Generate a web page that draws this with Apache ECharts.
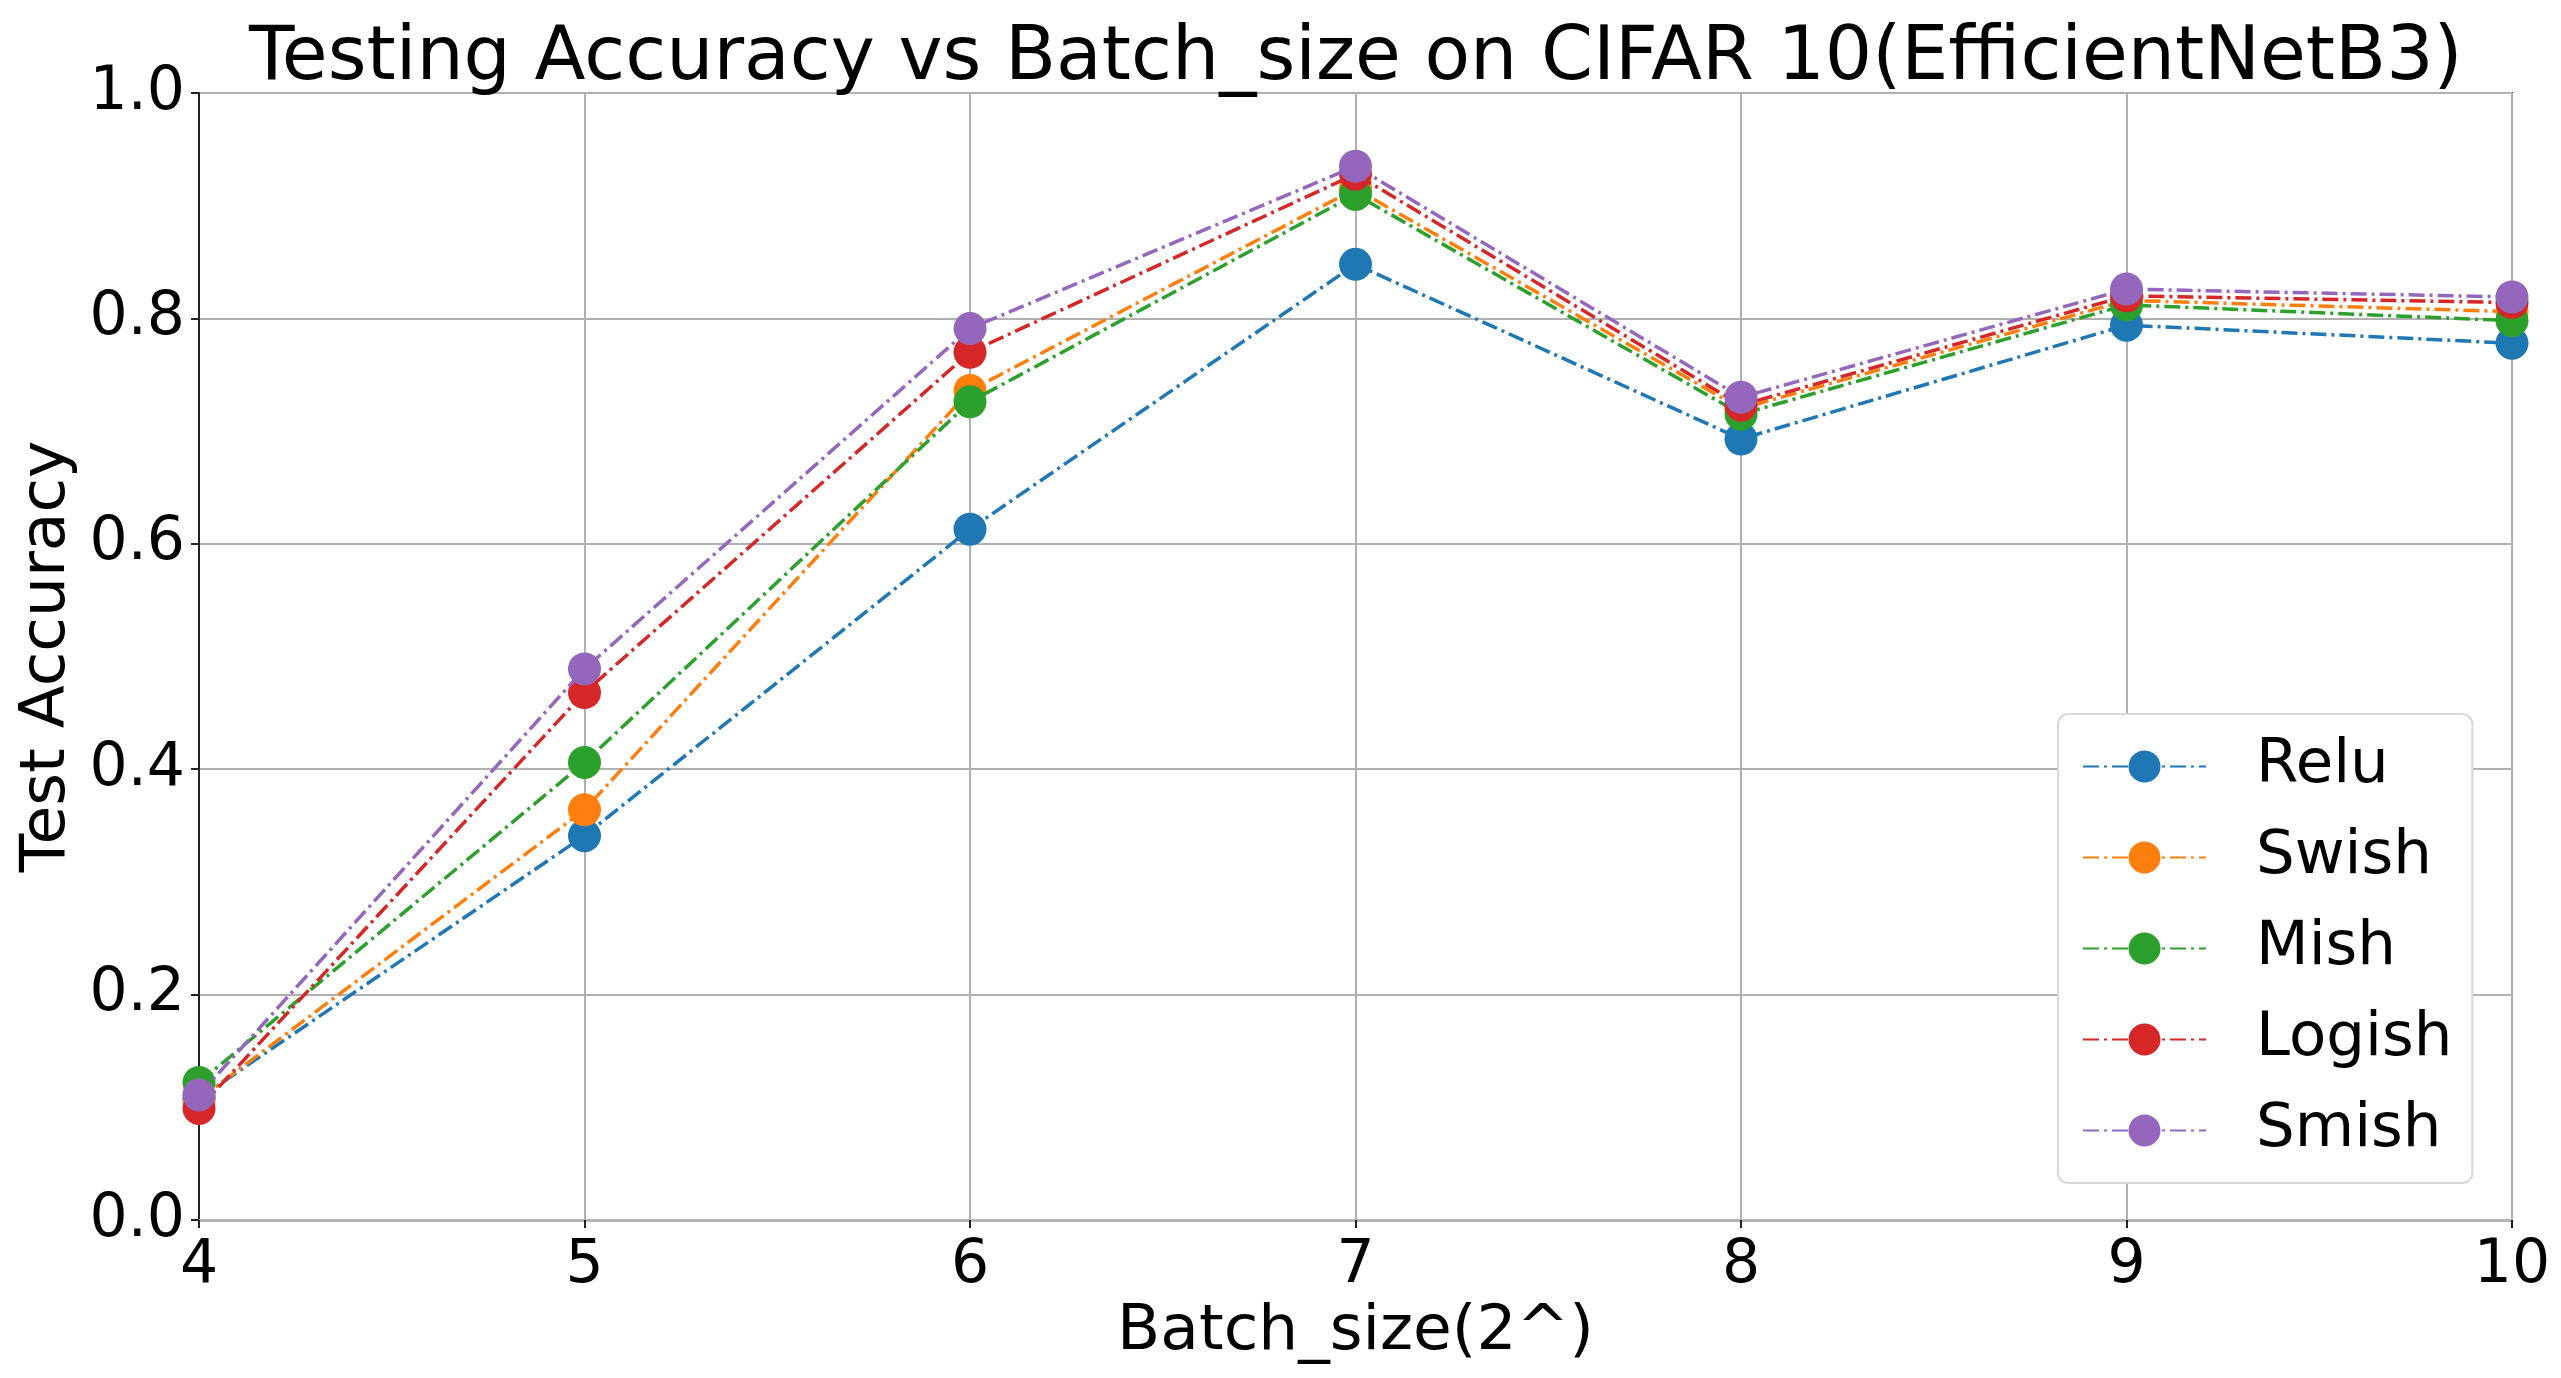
<!DOCTYPE html>
<html>
<head>
<meta charset="utf-8">
<script src="https://cdn.jsdelivr.net/npm/echarts@6/dist/echarts.min.js"></script>
<style>html,body{margin:0;padding:0;background:#fff;}#c{width:2561px;height:1378px;}</style>
</head>
<body>
<div id="c"></div>
<script>
const batchSizes = [4, 5, 6, 7, 8, 9, 10];
const seriesNames = ['Relu', 'Swish', 'Mish', 'Logish', 'Smish'];
const relu   = [0.108, 0.341, 0.613, 0.848, 0.693, 0.794, 0.778];
const swish  = [0.107, 0.364, 0.736, 0.915, 0.720, 0.816, 0.806];
const mish   = [0.122, 0.406, 0.726, 0.910, 0.715, 0.812, 0.798];
const logish = [0.099, 0.468, 0.770, 0.928, 0.723, 0.820, 0.814];
const smish  = [0.111, 0.489, 0.791, 0.935, 0.730, 0.826, 0.819];
const yTicks = [0.0, 0.2, 0.4, 0.6, 0.8, 1.0];

const values = [relu, swish, mish, logish, smish];
const colors = ['#1f77b4', '#ff7f0e', '#2ca02c', '#d62728', '#9467bd'];
const FONT = 'DejaVu Sans';

const chart = echarts.init(document.getElementById('c'));
chart.setOption({
  animation: false,
  backgroundColor: '#fff',
  title: {
    text: 'Testing Accuracy vs Batch_size on CIFAR 10(EfficientNetB3)',
    left: 244, top: 17,
    textStyle: { fontFamily: FONT, fontSize: 74.5, fontWeight: 'normal', color: '#000' }
  },
  grid: { left: 199, right: 49, top: 93, bottom: 158, outerBoundsMode: 'none', containLabel: false,
          show: true, borderColor: '#333', borderWidth: 2, backgroundColor: 'transparent' },
  legend: {
    orient: 'vertical', left: 2058, top: 714,
    data: seriesNames,
    itemWidth: 123, itemHeight: 40, itemGap: 30,
    padding: [22, 20, 22, 24],
    backgroundColor: '#fff', borderColor: '#d8d8d8', borderWidth: 2, borderRadius: 10,
    textStyle: { fontFamily: FONT, fontSize: 61, color: '#000', lineHeight: 61, padding: [0, 0, 0, 45] }
  },
  xAxis: {
    type: 'value', min: 4, max: 10, interval: 1,
    name: 'Batch_size(2^)', nameLocation: 'middle', nameGap: 80,
    nameTextStyle: { fontFamily: FONT, fontSize: 63, color: '#000' },
    axisLine: { show: true, lineStyle: { color: '#b5b5b5', width: 3 } },
    axisTick: { show: true, length: 8, lineStyle: { color: '#222', width: 2 } },
    axisLabel: { fontFamily: FONT, fontSize: 60, color: '#000', margin: 16 },
    splitLine: { show: true, lineStyle: { color: '#b0b0b0', width: 2 } }
  },
  yAxis: {
    type: 'value', min: 0, max: 1, interval: 0.2,
    name: 'Test Accuracy', nameLocation: 'middle', nameGap: 118,
    nameTextStyle: { fontFamily: FONT, fontSize: 63, color: '#000' },
    axisLine: { show: true, lineStyle: { color: '#222', width: 2 } },
    axisTick: { show: true, length: 8, lineStyle: { color: '#222', width: 2 } },
    axisLabel: { fontFamily: FONT, fontSize: 60, color: '#000', margin: 14,
      formatter: v => yTicks.find(t => Math.abs(t - v) < 1e-9).toFixed(1) },
    splitLine: { show: true, lineStyle: { color: '#b0b0b0', width: 2 } }
  },
  series: seriesNames.map((name, i) => ({
    name, type: 'line',
    data: batchSizes.map((x, j) => [x, values[i][j]]),
    symbol: 'circle', symbolSize: 33,
    itemStyle: { color: colors[i] },
    lineStyle: { color: colors[i], width: 3.5, type: [16, 5, 3, 5] },
    clip: true, z: 2 + i
  }))
});
</script>
</body>
</html>
